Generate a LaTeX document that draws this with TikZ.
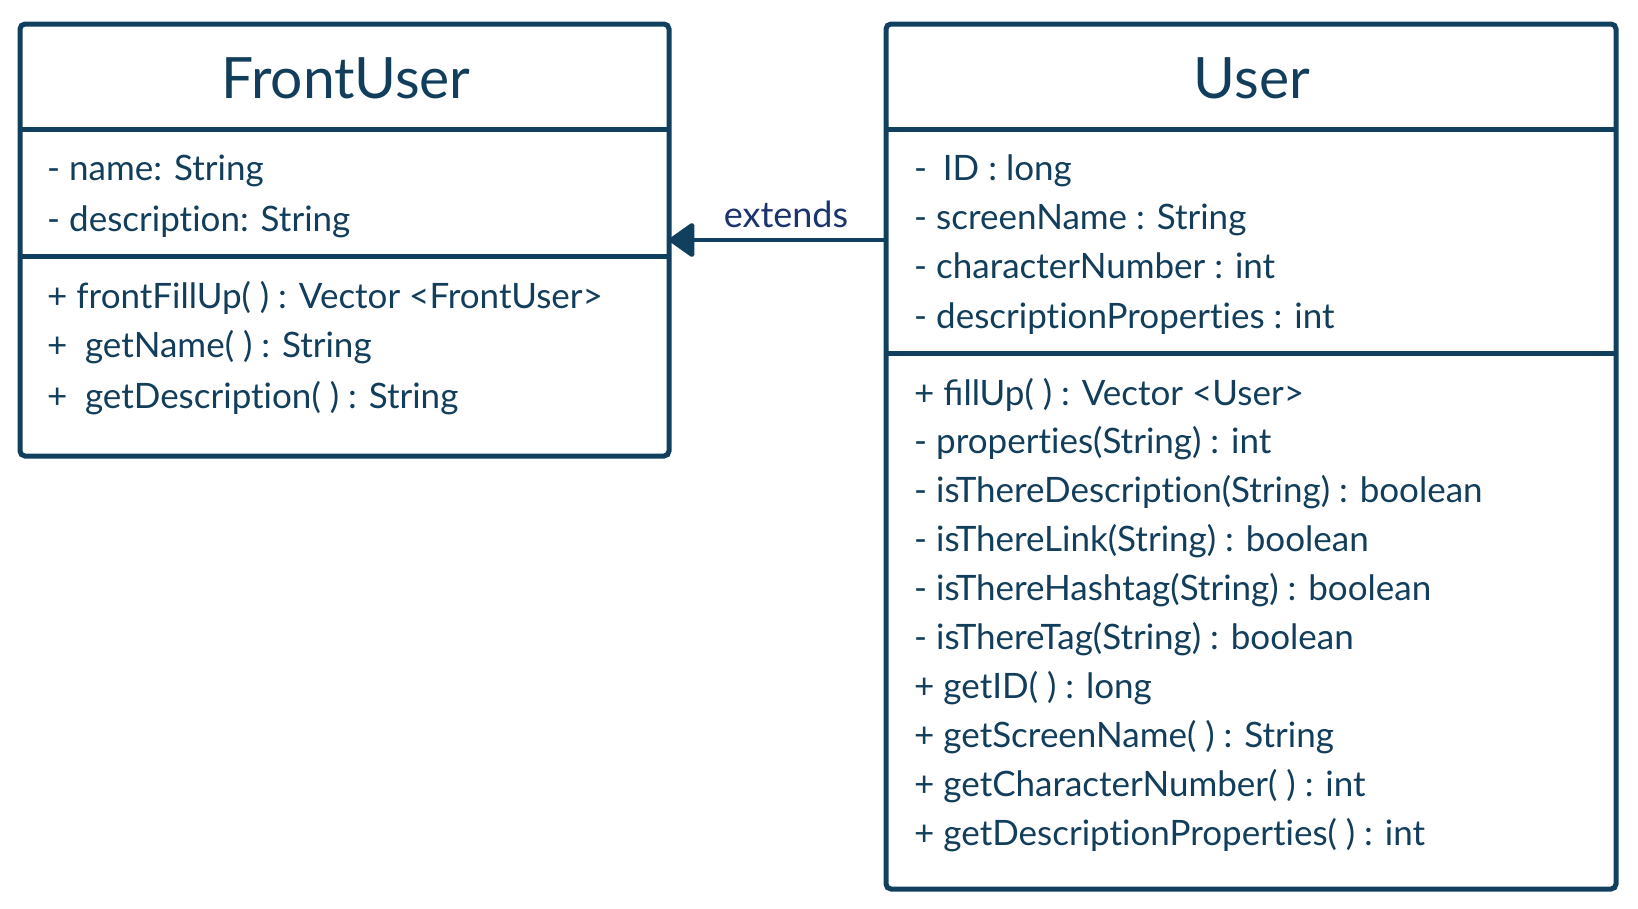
\documentclass[tikz,border=0pt]{standalone}
\usepackage{fontspec}
\setmainfont{Lato}[Ligatures=NoCommon]
\usetikzlibrary{arrows.meta}
\definecolor{umlline}{RGB}{16,64,94}
\definecolor{umltext}{RGB}{18,62,92}
\definecolor{extcol}{RGB}{28,52,110}
\tikzset{
  classbox/.style={draw=umlline, line width=5pt, rounded corners=5pt, inner sep=0pt, outer sep=0pt},
  divider/.style={draw=umlline, line width=5pt},
  classtitle/.style={anchor=base, inner sep=0pt, text=umltext, font=\fontsize{57}{62}\selectfont},
  member/.style={anchor=base west, inner sep=0pt, text=umltext, font=\fontsize{35}{40}\selectfont},
  extarrow/.style={draw=umlline, line width=4.5pt, -{Triangle[length=27pt,width=37pt,round]}},
  extlabel/.style={anchor=base, inner sep=0pt, text=extcol, font=\fontsize{36}{40}\selectfont}
}
\begin{document}
\begin{tikzpicture}[x=1pt,y=-1pt]
\useasboundingbox (0,0) rectangle (1638,908);
% FrontUser class
\node[classbox, minimum width=649pt, minimum height=432pt] (front) at (344.5,240) {};
\draw[divider] (front.west |- 0,129) -- (front.east |- 0,129);
\draw[divider] (front.west |- 0,256) -- (front.east |- 0,256);
\node[classtitle] (fronttitle) at (346,98) {FrontUser};
\node[member] (fa1) at (47,180) {- name: String};
\node[member] (fa2) at (47,231) {- description: String};
\node[member] (fm1) at (47,308) {+ frontFillUp( ) : Vector <FrontUser>};
\node[member] (fm2) at (47,357) {+\hspace{0.5em}getName( ) : String};
\node[member] (fm3) at (47,408) {+\hspace{0.5em}getDescription( ) : String};
% User class
\node[classbox, minimum width=730pt, minimum height=865pt] (user) at (1251,456.5) {};
\draw[divider] (user.west |- 0,129) -- (user.east |- 0,129);
\draw[divider] (user.west |- 0,353) -- (user.east |- 0,353);
\node[classtitle] (usertitle) at (1252,98) {User};
\node[member] (ua1) at (914,180.5) {-\hspace{0.45em}ID : long};
\node[member] (ua2) at (914,229.5) {- screenName : String};
\node[member] (ua3) at (914,278.5) {- characterNumber : int};
\node[member] (ua4) at (914,328.5) {- descriptionProperties : int};
\node[member] (um1) at (914,405) {+ ﬁllUp( ) : Vector <User>};
\node[member] (um2) at (914,453.9) {- properties(String) : int};
\node[member] (um3) at (914,502.8) {- isThereDescription(String) : boolean};
\node[member] (um4) at (914,551.7) {- isThereLink(String) : boolean};
\node[member] (um5) at (914,600.6) {- isThereHashtag(String) : boolean};
\node[member] (um6) at (914,649.5) {- isThereTag(String) : boolean};
\node[member] (um7) at (914,698.4) {+ getID( ) : long};
\node[member] (um8) at (914,747.3) {+ getScreenName( ) : String};
\node[member] (um9) at (914,796.2) {+ getCharacterNumber( ) : int};
\node[member] (um10) at (914,845.5) {+ getDescriptionProperties( ) : int};
% generalisation
\draw[extarrow] (user.west |- front.east) -- (front.east);
\node[extlabel] (ext) at (786,227) {extends};
\end{tikzpicture}
\end{document}
